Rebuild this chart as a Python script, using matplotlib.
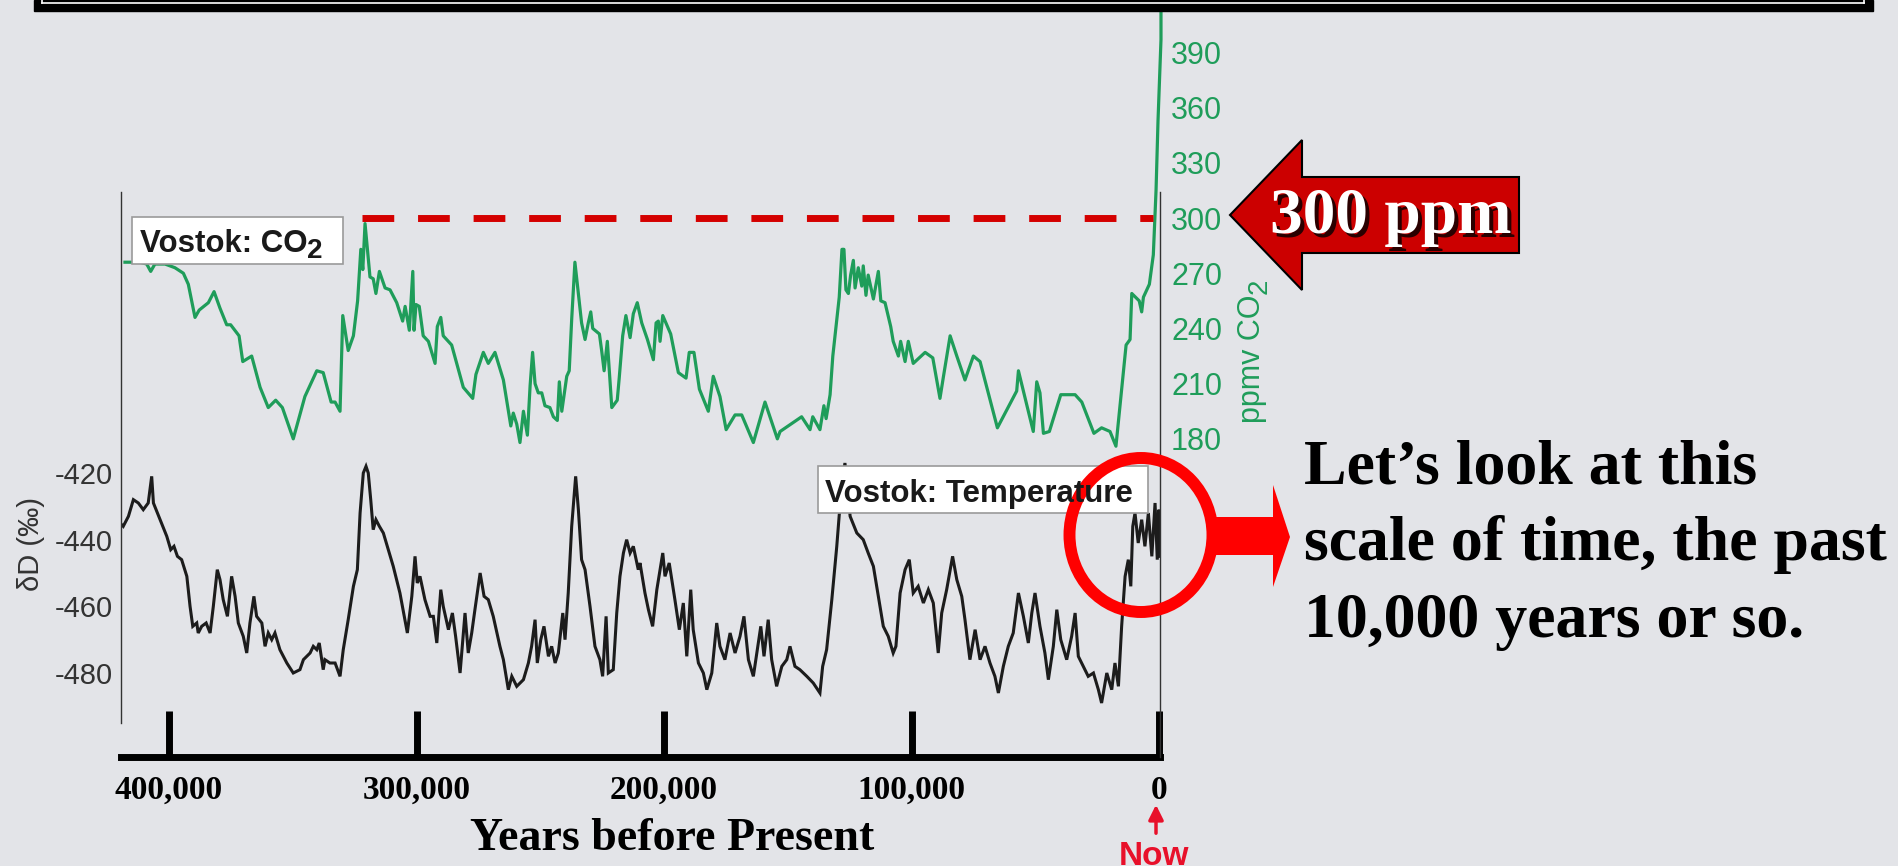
import matplotlib.pyplot as plt
from matplotlib.patches import Rectangle, Polygon, Ellipse

plt.rcParams['font.family'] = ['Liberation Sans', 'DejaVu Sans']

BG = '#e3e4e8'
GREEN = '#1f9d5a'
RED = '#ff0000'

# Vostok CO2 (age in kyr before present, ppmv)
co2_age = [417.8, 411.7, 409.0, 407.4, 405.7, 401.6, 397.6, 394.2, 392.2, 389.5,
           387.8, 384.1, 381.8, 379.4, 376.7, 375.1, 371.7, 370.2, 366.6, 363.2,
           359.9, 356.9, 354.2, 349.8, 345.1, 340.3, 337.7, 334.5, 332.9, 330.9,
           329.8, 327.6, 325.5, 323.8, 322.5, 321.7, 320.8, 319.9, 318.8, 317.5,
           316.4, 315.0, 312.7, 310.7, 308.0, 305.6, 304.6, 302.9, 301.5, 301.0,
           300.2, 298.9, 297.3, 295.2, 292.5, 291.6, 290.2, 289.2, 285.8, 281.1,
           277.3, 276.0, 273.0, 271.0, 268.3, 264.9, 261.9, 260.9, 259.5, 258.2,
           256.8, 255.2, 254.1, 253.1, 252.1, 250.8, 249.4, 248.1, 246.1, 244.7,
           243.1, 242.3, 241.3, 239.3, 238.3, 237.3, 236.0, 233.3, 231.9, 230.6,
           229.6, 228.8, 226.1, 225.2, 224.2, 222.9, 221.1, 218.9, 218.1, 216.7,
           215.4, 213.7, 212.4, 210.8, 209.0, 206.7, 204.3, 203.2, 202.3, 201.6,
           200.5, 197.3, 194.2, 191.1, 189.8, 187.9, 185.7, 182.1, 180.1, 177.4,
           174.9, 171.3, 168.6, 163.9, 159.2, 154.2, 153.1, 144.4, 141.0, 139.9,
           137.0, 135.4, 134.5, 132.9, 131.8, 129.2, 128.1, 127.3, 126.5, 125.5,
           124.6, 123.5, 122.8, 121.5, 120.1, 119.5, 118.4, 117.5, 115.4, 113.4,
           112.4, 110.7, 108.4, 107.4, 105.3, 104.4, 102.6, 101.3, 99.3, 94.5,
           91.4, 88.5, 87.2, 84.4, 81.7, 78.4, 75.0, 72.3, 69.0, 65.3,
           57.5, 56.8, 50.8, 49.4, 48.1, 46.7, 44.3, 39.7, 33.9, 31.2,
           26.3, 23.2, 19.8, 17.4, 13.3, 11.7, 11.0, 8.0, 7.0, 6.3,
           3.9, 2.3, 1.2, 0.4, -0.8, -0.8]
co2_ppm = [276, 276, 275, 271, 275, 275, 273, 270, 264, 246,
           250, 254, 260, 251, 242, 242, 236, 222, 225, 208,
           197, 201, 197, 180, 203, 217, 216, 200, 200, 195,
           247, 228, 236, 255, 283, 272, 297, 284, 268, 267,
           259, 271, 262, 261, 254, 244, 252, 239, 271, 239,
           253, 252, 236, 233, 221, 241, 246, 236, 231, 208,
           202, 215, 227, 221, 227, 212, 187, 194, 188, 178,
           195, 182, 209, 227, 210, 205, 205, 198, 197, 192,
           190, 211, 195, 214, 217, 245, 276, 243, 234, 243,
           249, 240, 237, 228, 217, 233, 197, 201, 213, 236,
           247, 235, 248, 254, 243, 234, 223, 243, 244, 233,
           247, 237, 216, 213, 227, 227, 207, 195, 214, 203,
           185, 193, 193, 178, 200, 180, 184, 192, 185, 192,
           185, 198, 191, 204, 225, 257, 283, 283, 261, 259,
           269, 277, 262, 273, 263, 274, 258, 269, 256, 271,
           255, 254, 241, 233, 225, 233, 222, 233, 221, 227,
           224, 202, 213, 236, 225, 212, 225, 222, 205, 186,
           206, 217, 184, 211, 205, 183, 184, 204, 204, 200,
           183, 186, 184, 176, 231, 234, 259, 255, 249, 257,
           264, 280, 315, 353, 397, 419]

# Vostok temperature proxy (age in kyr, deltaD permil)
temp_age = [419.8, 418.5, 416.4, 414.4, 412.4, 410.4, 408.4, 407.0, 406.3, 403.6,
            400.9, 399.3, 398.0, 396.6, 394.9, 392.8, 391.5, 390.4, 388.8, 388.2,
            386.8, 385.0, 383.4, 382.1, 380.5, 379.4, 378.1, 376.4, 374.7, 373.3,
            372.0, 370.0, 368.6, 367.3, 365.7, 364.6, 362.5, 361.2, 359.9, 358.5,
            357.2, 355.2, 352.4, 349.8, 347.1, 345.7, 343.0, 341.7, 340.3, 339.3,
            337.7, 337.0, 335.0, 332.9, 330.9, 329.6, 327.6, 325.5, 323.9, 322.8,
            321.5, 320.4, 319.5, 318.5, 317.5, 316.4, 315.0, 313.4, 311.4, 309.4,
            306.7, 303.7, 301.9, 300.6, 299.7, 298.6, 296.6, 294.5, 293.2, 291.8,
            290.2, 289.2, 287.1, 285.5, 284.2, 282.4, 280.4, 279.1, 277.7, 276.4,
            274.3, 272.7, 271.0, 269.0, 266.3, 264.9, 262.9, 261.5, 259.5, 256.8,
            254.8, 253.5, 252.1, 251.2, 249.8, 248.5, 246.7, 245.4, 244.0, 242.7,
            240.9, 240.0, 238.7, 237.3, 235.7, 234.6, 233.3, 231.9, 229.9, 227.9,
            225.9, 224.8, 223.4, 222.5, 220.5, 219.1, 217.8, 216.4, 215.1, 213.7,
            212.4, 210.4, 209.7, 207.7, 206.3, 204.6, 202.9, 200.5, 199.6, 197.9,
            195.6, 193.8, 192.2, 190.8, 189.2, 188.2, 186.1, 184.1, 182.7, 180.7,
            178.7, 177.4, 175.4, 173.3, 171.3, 169.3, 167.7, 165.9, 163.9, 162.5,
            160.9, 159.6, 157.9, 156.5, 154.5, 152.4, 150.4, 149.1, 147.1, 145.1,
            142.3, 139.7, 137.0, 135.9, 134.3, 132.2, 130.2, 128.5, 126.9, 124.8,
            122.1, 119.5, 117.5, 115.4, 113.4, 111.4, 109.4, 107.4, 106.3, 104.6,
            102.6, 100.9, 99.3, 97.3, 95.2, 93.2, 91.2, 89.2, 87.8, 85.8,
            83.4, 81.7, 79.7, 78.4, 76.4, 74.3, 72.3, 70.3, 68.3, 66.3,
            64.9, 62.9, 60.9, 58.9, 56.8, 54.8, 52.8, 51.4, 50.1, 48.1,
            46.1, 44.7, 42.7, 41.3, 39.7, 37.3, 35.3, 33.9, 32.6, 30.6,
            28.6, 26.5, 24.5, 23.2, 21.1, 19.1, 17.8, 16.4, 15.1, 13.7,
            12.4, 11.4, 10.6, 9.7, 8.4, 7.0, 5.7, 4.3, 2.9, 1.6,
            0.7, 0.0, -0.4]
temp_dD = [-435, -436, -433, -428, -429, -431, -429, -421, -429, -434,
           -439, -443, -442, -445, -446, -451, -460, -466, -465, -468,
           -466, -465, -468, -460, -449, -452, -458, -463, -451, -457,
           -465, -469, -474, -465, -457, -463, -465, -472, -468, -470,
           -468, -473, -477, -480, -479, -476, -474, -472, -473, -471,
           -479, -476, -477, -477, -481, -473, -464, -454, -449, -432,
           -420, -418, -420, -428, -437, -434, -436, -438, -443, -448,
           -456, -468, -457, -445, -453, -451, -458, -463, -463, -471,
           -455, -460, -467, -462, -469, -480, -462, -474, -468, -461,
           -450, -457, -458, -463, -472, -476, -485, -481, -484, -482,
           -477, -472, -464, -477, -470, -466, -475, -472, -477, -474,
           -462, -470, -456, -436, -421, -431, -446, -449, -460, -472,
           -476, -481, -463, -480, -479, -462, -451, -444, -440, -444,
           -442, -449, -447, -456, -461, -466, -455, -444, -451, -447,
           -458, -467, -459, -475, -455, -467, -477, -480, -485, -480,
           -465, -472, -476, -468, -474, -469, -463, -476, -481, -474,
           -466, -475, -464, -476, -484, -478, -476, -472, -478, -479,
           -481, -483, -486, -478, -473, -458, -442, -426, -417, -433,
           -438, -440, -444, -448, -457, -466, -469, -474, -472, -456,
           -449, -446, -456, -454, -459, -455, -459, -474, -462, -455,
           -445, -452, -457, -464, -476, -467, -476, -472, -477, -481,
           -486, -478, -472, -468, -456, -463, -471, -462, -456, -466,
           -474, -482, -472, -461, -470, -476, -469, -462, -475, -478,
           -481, -480, -485, -489, -480, -485, -477, -484, -466, -451,
           -446, -454, -436, -432, -441, -434, -442, -432, -445, -429,
           -446, -431, -445]

year_ticks = [400, 300, 200, 100, 0]
year_labels = ['400,000', '300,000', '200,000', '100,000', '0']
dD_ticks = [-420, -440, -460, -480]
ppm_ticks = [180, 210, 240, 270, 300, 330, 360, 390]
threshold_ppm = 300
threshold_from, threshold_to = 322.0, 2.4

W, H = 1899, 866
fig = plt.figure(figsize=(W / 100, H / 100), dpi=100, facecolor=BG)


def frac(x0, y0, x1, y1):
    # pixel box (top-left origin) -> figure fraction
    return [x0 / W, 1 - y1 / H, (x1 - x0) / W, (y1 - y0) / H]


# temperature axes
ax = fig.add_axes(frac(121, 0, 1160, 757))
ax.set_facecolor('none')
ax.set_xlim(419.4, -0.4)
ax.set_ylim(-505.2, -278.1)
ax.plot(temp_age, temp_dD, color='#1c1c1c', lw=2.2, solid_joinstyle='miter')

for s in ['top', 'right']:
    ax.spines[s].set_visible(False)
ax.spines['left'].set_bounds(-495, -335.7)
ax.spines['left'].set_color('#333333')
ax.spines['left'].set_linewidth(1.0)
ax.spines['bottom'].set_linewidth(5)
ax.spines['bottom'].set_color('black')

ax.set_xticks(year_ticks)
ax.set_xticklabels(year_labels, fontfamily='Liberation Serif', fontweight='bold', fontsize=24)
ax.tick_params(axis='x', direction='in', length=33, width=5, color='black', pad=13)
ax.set_yticks(dD_ticks)
ax.set_yticklabels([str(v) for v in dD_ticks], fontsize=21, color='#333333')
ax.tick_params(axis='y', length=0, pad=6)

# CO2 axes
ax2 = ax.twinx()
ax2.set_ylim(7.1, 418.5)
ax2.plot(co2_age, co2_ppm, color=GREEN, lw=2.3, clip_on=False)
ax2.plot([threshold_from, threshold_to], [threshold_ppm, threshold_ppm],
         color='#d40000', lw=5, linestyle=(0, (4.57, 3.43)))
for s in ['top', 'left', 'bottom']:
    ax2.spines[s].set_visible(False)
ax2.spines['right'].set_bounds(7.1, 314.1)
ax2.spines['right'].set_color('#333333')
ax2.spines['right'].set_linewidth(1.0)
ax2.set_yticks(ppm_ticks)
ax2.set_yticklabels([str(v) for v in ppm_ticks], fontsize=22, color=GREEN)
ax2.tick_params(axis='y', length=0, pad=8)

# overlay in pixel coordinates for slide annotations
ov = fig.add_axes([0, 0, 1, 1])
ov.set_xlim(0, W)
ov.set_ylim(H, 0)
ov.axis('off')
ov.set_zorder(5)

# bottom of the title frame
ov.add_patch(Rectangle((34, 0), 1839, 11, color='black'))
ov.plot([42, 1864], [2.5, 2.5], color='white', lw=1.2)
ov.plot([42, 42], [0, 2.5], color='white', lw=1.2)
ov.plot([1864, 1864], [0, 2.5], color='white', lw=1.2)

# series labels
ov.add_patch(Rectangle((132, 217), 211, 47, fc='white', ec='#9a9a9a', lw=1.2))
ov.text(140, 252, 'Vostok: CO', fontsize=22.5, fontweight='bold',
        color='#1a1a1a', va='baseline')
ov.text(307, 258, '2', fontsize=20, fontweight='bold', color='#1a1a1a', va='baseline')
ov.add_patch(Rectangle((818, 466), 330, 47, fc='white', ec='#9a9a9a', lw=1.2))
ov.text(825, 502, 'Vostok: Temperature', fontsize=22.5, fontweight='bold',
        color='#1a1a1a', va='baseline')

# axis titles
ov.text(31, 544, 'δD (‰)', rotation=90, ha='center', va='center',
        fontsize=21, color='#333333')
ov.text(1260, 423, 'ppmv CO', rotation=90, rotation_mode='anchor', ha='left',
        va='baseline', fontsize=22, color=GREEN)
ov.text(1267, 294, '2', rotation=90, rotation_mode='anchor', ha='left',
        va='baseline', fontsize=20, color=GREEN)
ov.text(672, 850, 'Years before Present', ha='center', va='baseline',
        fontfamily='Liberation Serif', fontweight='bold', fontsize=33)

# "Now" marker
ov.annotate('', xy=(1156, 802), xytext=(1156, 836),
            arrowprops=dict(arrowstyle='-|>', color='#e8102a', lw=2.5, mutation_scale=22))
ov.text(1154, 865, 'Now', ha='center', va='baseline', fontsize=24,
        fontweight='bold', color='#e8102a')

# 300 ppm arrow
ov.add_patch(Polygon([(1230, 215), (1302, 140), (1302, 177), (1519, 177), (1519, 253),
                      (1302, 253), (1302, 290)], closed=True, fc='#cc0000', ec='black', lw=1.5))
ov.text(1274, 237, '300 ppm', fontfamily='Liberation Serif', fontweight='bold',
        fontsize=47, color='#2a0000', va='baseline')
ov.text(1270, 233, '300 ppm', fontfamily='Liberation Serif', fontweight='bold',
        fontsize=47, color='white', va='baseline')

# circle + arrow to the text
ov.add_patch(Ellipse((1141, 535), 143, 154, fill=False, ec=RED, lw=8.6))
ov.add_patch(Polygon([(1215, 517), (1273, 517), (1273, 485), (1290, 537), (1273, 587),
                      (1273, 555), (1215, 555)], closed=True, fc=RED, ec='none'))

for i, line in enumerate(['Let\u2019s look at this', 'scale of time, the past',
                          '10,000 years or so.']):
    ov.text(1304, 483 + 77 * i, line, fontfamily='Liberation Serif', fontweight='bold',
            fontsize=46, color='black', va='baseline')

fig.savefig('out.png', dpi=100, facecolor=BG)
